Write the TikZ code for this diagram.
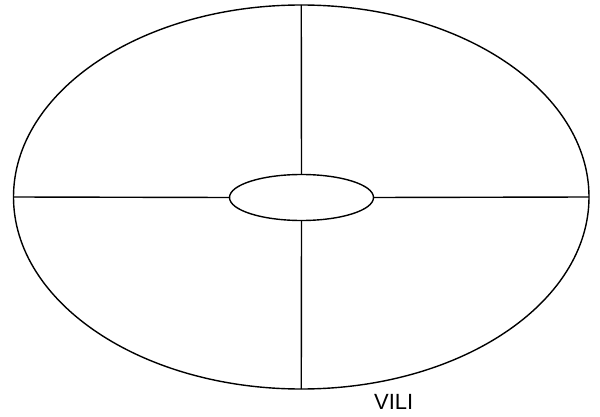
\documentclass[tikz,border=0pt]{standalone}
\usepackage{fontspec}
\setmainfont{Liberation Sans}
\usetikzlibrary{shapes.geometric}
\begin{document}
\begin{tikzpicture}[x=1pt,y=1pt,
  ring/.style={draw=black,line width=1.4pt,ellipse,inner sep=0pt,outer sep=0pt},
  spoke/.style={draw=black,line width=1.4pt}]
\useasboundingbox (0,0) rectangle (600,416);
\node[ring,minimum width=575.5pt,minimum height=384pt] (outer) at (301.25,219) {};
\node[ring,minimum width=144pt,minimum height=46pt] (inner) at (301.5,218.5) {};
\draw[spoke] (outer.west) -- (inner.west);
\draw[spoke] (inner.east) -- (outer.east);
\draw[spoke] (outer.north) -- (inner.north);
\draw[spoke] (inner.south) -- (outer.south);
\node[anchor=base west,inner sep=0pt,font=\fontsize{22}{26}\selectfont] (label) at (374,7) {VILI};
\end{tikzpicture}
\end{document}
